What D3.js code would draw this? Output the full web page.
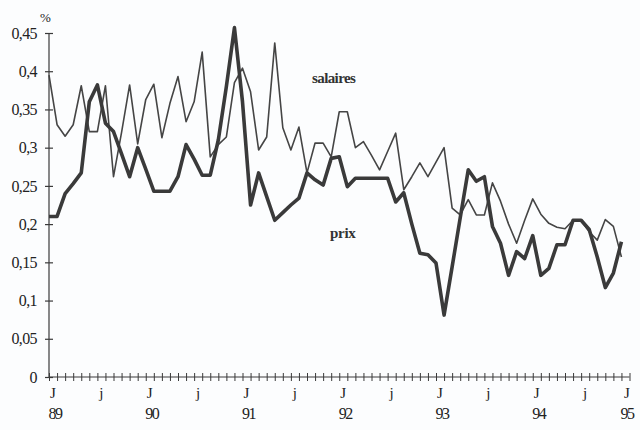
<!DOCTYPE html>
<html><head><meta charset="utf-8">
<script src="https://cdn.jsdelivr.net/npm/d3@7"></script>
<style>
html,body{margin:0;padding:0;background:#fcfdfe;}
svg{display:block;font-family:"Liberation Serif","DejaVu Serif",serif;}
</style></head>
<body><svg id="c" width="640" height="430"></svg>
<script>
// months from Jan 1989 (index 0) to Dec 1994 (index 71); axis runs to Jan 1995 (72)
const salaires = [0.395,0.33,0.315,0.33,0.381,0.321,0.321,0.381,0.262,0.32,0.382,0.305,
  0.363,0.383,0.313,0.358,0.393,0.334,0.36,0.425,0.288,0.304,0.314,0.385,
  0.404,0.373,0.297,0.314,0.437,0.326,0.297,0.327,0.267,0.306,0.306,0.288,
  0.347,0.347,0.30,0.308,0.29,0.271,0.295,0.319,0.245,0.262,0.28,0.262,
  0.281,0.30,0.221,0.212,0.232,0.212,0.212,0.254,0.23,0.20,0.175,0.205,
  0.233,0.213,0.201,0.196,0.194,0.205,0.205,0.19,0.179,0.206,0.197,0.157];
const prix = [0.21,0.21,0.24,0.253,0.267,0.36,0.382,0.332,0.321,0.292,0.262,0.30,
  0.272,0.243,0.243,0.243,0.262,0.304,0.285,0.264,0.264,0.31,0.38,0.457,
  0.36,0.225,0.267,0.236,0.205,0.215,0.225,0.234,0.267,0.258,0.251,0.286,
  0.288,0.249,0.26,0.26,0.26,0.26,0.26,0.229,0.241,0.20,0.162,0.16,
  0.149,0.081,0.144,0.208,0.271,0.256,0.262,0.197,0.175,0.133,0.164,0.155,
  0.185,0.133,0.142,0.173,0.173,0.205,0.205,0.193,0.157,0.117,0.136,0.177];
const yTickValues = [0,0.05,0.1,0.15,0.2,0.25,0.3,0.35,0.4,0.45];
const yTickLabels = ["0","0,05","0,1","0,15","0,2","0,25","0,3","0,35","0,4","0,45"];
const monthLabelIdx = [0,6,12,18,24,30,36,42,48,54,60,66,72];
const monthLabels = ["J","j","J","j","J","j","J","j","J","j","J","j","J"];
const yearIdx = [0,12,24,36,48,60,72];
const yearLabels = ["89","90","91","92","93","94","95"];
const nMonths = 72;

const svg = d3.select("#c");
const ink = "#3a3a3a";
const x = d3.scaleLinear().domain([0, nMonths]).range([49, 629.5]);
const y = d3.scaleLinear().domain([0, 0.45]).range([377, 33]);

// y axis
const ya = svg.append("g").attr("transform","translate(49,0)")
  .call(d3.axisLeft(y).tickValues(yTickValues).tickSize(4)
    .tickFormat((d,i)=>yTickLabels[i]).tickPadding(8));
ya.select(".domain").attr("stroke",ink).attr("stroke-width",1.2).attr("d","M0,"+y(0.45)+"V"+y(0));
ya.selectAll(".tick line").attr("x1",-4).attr("x2",4).attr("stroke",ink).attr("stroke-width",1.2);
ya.selectAll(".tick text").attr("font-size",16).attr("fill","#222")
  .attr("font-family","'Liberation Serif',serif").attr("letter-spacing","-0.6");

// x axis with monthly ticks
const xa = svg.append("g").attr("transform","translate(0,"+y(0)+")")
  .call(d3.axisBottom(x).tickValues(d3.range(0,nMonths+1)).tickSize(4).tickFormat(""));
xa.select(".domain").attr("stroke",ink).attr("stroke-width",1.2).attr("d","M"+x(0)+",0H"+x(nMonths));
xa.selectAll(".tick line").attr("y1",-4).attr("y2",4).attr("stroke",ink).attr("stroke-width",1);

svg.append("g").selectAll("text").data(monthLabelIdx).join("text")
  .attr("x",d=>Math.min(x(d)+4, 627)).attr("y",398).attr("text-anchor","middle")
  .attr("font-size",15).attr("fill","#222").text((d,i)=>monthLabels[i]);
svg.append("g").selectAll("text").data(yearIdx).join("text")
  .attr("x",d=>Math.min(x(d)+6, 627)).attr("y",419).attr("text-anchor","middle")
  .attr("font-size",16).attr("fill","#222").attr("letter-spacing","-1.5").text((d,i)=>yearLabels[i]);

svg.append("text").attr("x",40).attr("y",22).attr("font-size",13).attr("fill","#222").text("%");

const line = d3.line().x((d,i)=>x(i)).y(d=>y(d));
svg.append("path").datum(salaires).attr("d",line).attr("fill","none")
  .attr("stroke","#454545").attr("stroke-width",1.6).attr("stroke-linejoin","round");
svg.append("path").datum(prix).attr("d",line).attr("fill","none")
  .attr("stroke","#3a3a3a").attr("stroke-width",3.6).attr("stroke-linejoin","round");

svg.append("text").attr("x",312).attr("y",83).attr("font-size",15).attr("font-weight","bold")
  .attr("fill","#333").attr("letter-spacing","-0.6").text("salaires");
svg.append("text").attr("x",330).attr("y",238).attr("font-size",15).attr("font-weight","bold")
  .attr("fill","#333").attr("letter-spacing","-0.3").text("prix");
</script></body></html>
